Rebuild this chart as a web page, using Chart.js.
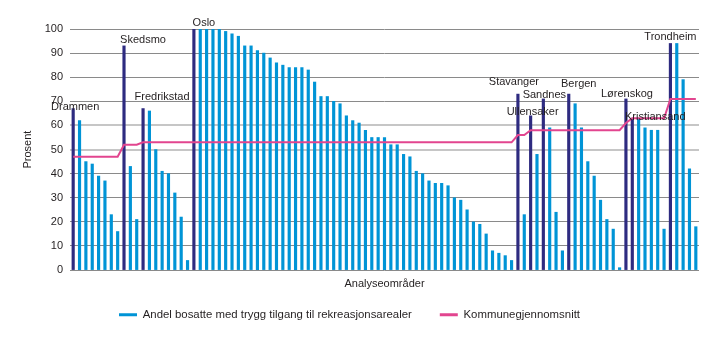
<!DOCTYPE html>
<html>
<head>
<meta charset="utf-8">
<script src="https://cdn.jsdelivr.net/npm/chart.js@4"></script>
<style>
  html, body { margin: 0; background: #fff; }
  #wrap { width: 720px; height: 341px; }
</style>
</head>
<body>
<div id="wrap"><canvas id="stage"></canvas></div>
<script>
// andel bosatte med trygg tilgang (%), ett tall per analyseområde
const shares = [
  67, 62, 45, 44, 39, 37, 23, 16,
  93, 43, 21,
  67, 66, 50, 41, 40, 32, 22, 4,
  100, 100, 100, 100, 100, 99, 98, 97,
  93, 93, 91, 90, 88, 86, 85, 84, 84, 84, 83,
  78, 72, 72, 70, 69, 64, 62, 61, 58, 55, 55, 55,
  52, 52, 48, 47, 41, 40, 37, 36, 36, 35, 30, 29, 25,
  20, 19, 15, 8, 7, 6, 4,
  73, 23, 64, 48, 71, 59, 24, 8,
  73, 69, 59, 45, 39, 29, 21, 17, 1,
  71, 63, 63, 59, 58, 58, 17,
  94, 94, 79, 42, 18
];

// kommunegjennomsnitt for hvert område
const average = [
  47, 47, 47, 47, 47, 47, 47, 47,
  52, 52, 52,
  53, 53, 53, 53, 53, 53, 53, 53,
  53, 53, 53, 53, 53, 53, 53, 53,
  53, 53, 53, 53, 53, 53, 53, 53, 53, 53, 53,
  53, 53, 53, 53, 53, 53, 53, 53, 53, 53, 53, 53,
  53, 53, 53, 53, 53, 53, 53, 53, 53, 53, 53, 53, 53,
  53, 53, 53, 53, 53, 53, 53,
  56, 56, 58, 58, 58, 58, 58, 58,
  58, 58, 58, 58, 58, 58, 58, 58, 58,
  61, 63, 63, 63, 63, 63, 63,
  71, 71, 71, 71, 71
];

// kommunene som er markert, og hvilket område (indeks) navnet står over
const cities = ['Drammen', 'Skedsmo', 'Fredrikstad', 'Oslo', 'Stavanger', 'Ullensaker',
  'Sandnes', 'Bergen', 'Lørenskog', 'Kristiansand', 'Trondheim'];
const cityIndex = [0, 8, 11, 19, 70, 72, 74, 78, 87, 88, 94];

const yTicks = [0, 10, 20, 30, 40, 50, 60, 70, 80, 90, 100];

const areaLabels = shares.map((v, i) => 'Område ' + (i + 1));

const BLUE = '#0094d6';
const NAVY = '#2e2b80';
const PINK = '#e2458f';
const INK = '#231f20';
const FONT = '"Liberation Sans", Arial, sans-serif';

// små justeringer av navnene i forhold til søylen [dx, dy]
const nudge = {
  Drammen: [2, 1], Skedsmo: [19, -3], Fredrikstad: [19, -9], Oslo: [10, -3],
  Stavanger: [-4, -9], Ullensaker: [2, -1], Sandnes: [1, -1], Bergen: [10, -7],
  'Lørenskog': [1, -2], Kristiansand: [23, 1.5], Trondheim: [0, -3]
};

const cityLabels = {
  id: 'cityLabels',
  afterDatasetsDraw(chart) {
    const { ctx, scales: { x, y } } = chart;
    ctx.save();
    ctx.font = '11px ' + FONT;
    ctx.fillStyle = INK;
    ctx.textAlign = 'center';
    ctx.textBaseline = 'alphabetic';
    cityIndex.forEach((idx, k) => {
      const [dx, dy] = nudge[cities[k]] || [0, -3];
      ctx.fillText(cities[k], x.getPixelForValue(idx) + dx, y.getPixelForValue(shares[idx]) + dy);
    });
    ctx.restore();
  }
};

const legendColors = [BLUE, PINK];

new Chart(document.getElementById('stage'), {
  type: 'bar',
  data: {
    labels: areaLabels,
    datasets: [{
      label: 'Andel bosatte med trygg tilgang til rekreasjonsarealer',
      data: shares,
      backgroundColor: (c) => (c.type === 'data' && cityIndex.includes(c.dataIndex)) ? NAVY : BLUE,
      borderWidth: 0,
      barThickness: 2.5,
      order: 1
    }, {
      type: 'line',
      label: 'Kommunegjennomsnitt',
      data: average,
      borderColor: PINK,
      backgroundColor: PINK,
      borderWidth: 2,
      pointRadius: 0,
      tension: 0,
      fill: false,
      order: 0
    }]
  },
  options: {
    responsive: true,
    maintainAspectRatio: false,
    animation: false,
    layout: { padding: { top: 29, right: 21, bottom: 10.5, left: 0 } },
    plugins: {
      tooltip: { enabled: false },
      legend: {
        position: 'bottom',
        labels: {
          boxWidth: 18,
          boxHeight: 3,
          padding: 28,
          color: INK,
          font: { family: FONT, size: 11.4 },
          sort: (a, b) => a.datasetIndex - b.datasetIndex,
          generateLabels: (chart) => Chart.defaults.plugins.legend.labels.generateLabels(chart)
            .map(item => ({ ...item, fillStyle: legendColors[item.datasetIndex], lineWidth: 0 }))
        }
      }
    },
    scales: {
      x: {
        grid: { display: false },
        border: { display: false },
        ticks: { display: false },
        title: {
          display: true,
          text: 'Analyseområder',
          color: INK,
          font: { family: FONT, size: 11 },
          padding: { top: 0, bottom: -9.1 }
        },
        afterFit: (s) => { s.height = 11; }
      },
      y: {
        min: 0,
        max: 100,
        afterBuildTicks: (s) => { s.ticks = yTicks.map(v => ({ value: v })); },
        ticks: {
          color: INK,
          padding: 7,
          font: { family: FONT, size: 11 }
        },
        grid: {
          drawTicks: false,
          color: (c) => (c.tick && (c.tick.value === 50 || c.tick.value === 60)) ? '#c6c6c6' : '#8a8a8a',
          lineWidth: (c) => (c.tick && (c.tick.value === 50 || c.tick.value === 60)) ? 2 : 1
        },
        border: { display: false },
        title: {
          display: true,
          text: 'Prosent',
          color: INK,
          font: { family: FONT, size: 11 },
          padding: { top: 21.4, bottom: 0 }
        },
        afterFit: (s) => { s.width = 70; }
      }
    }
  },
  plugins: [cityLabels]
});
</script>
</body>
</html>
